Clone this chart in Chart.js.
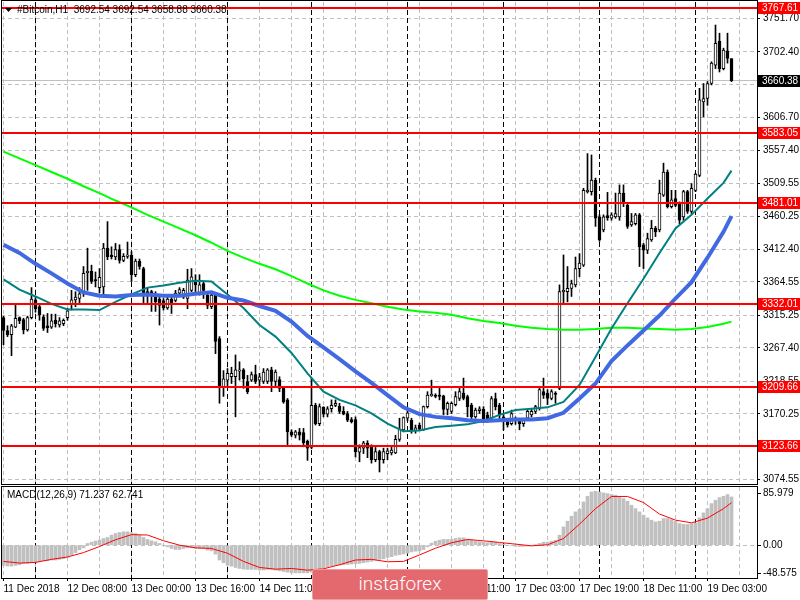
<!DOCTYPE html>
<html>
<head>
<meta charset="utf-8">
<script src="https://cdn.jsdelivr.net/npm/chart.js@4.4.0/dist/chart.umd.min.js"></script>
<style>
    html, body { margin: 0; padding: 0; background: #ffffff; }
    #wrap { position: relative; width: 800px; height: 600px; overflow: hidden; background: #ffffff; }
    #mainChart { position: absolute; left: 0; top: 0; }
    #macdChart { position: absolute; left: 0; top: 486px; }
    #mark {
        position: absolute; left: 312px; top: 569px; width: 176px; height: 31px;
        box-sizing: border-box; background: #e4696e; border: 1px solid #f09a9c; border-radius: 2px;
        color: #ffffff; font: 300 19px Roboto, sans-serif;
        display: flex; align-items: center; justify-content: center; padding-bottom: 2px;
    }
</style>
</head>
<body>
<div id="wrap">
    <canvas id="mainChart" width="800" height="486"></canvas>
    <canvas id="macdChart" width="800" height="114"></canvas>
    <div id="mark">instaforex</div>
</div>
<script>
/**
 * #Bitcoin H1 chart with moving averages, levels and MACD
 */

const symbol = '#Bitcoin,H1';

// x axis labels, one every 16 bars
const xLabels = ['11 Dec 2018', '12 Dec 08:00', '13 Dec 00:00', '13 Dec 16:00', '14 Dec 11:00', '15 Dec 03:00',
    '15 Dec 19:00', '16 Dec 11:00', '17 Dec 03:00', '17 Dec 19:00', '18 Dec 11:00', '19 Dec 03:00'];

// bar index of each midnight
const daySeparators = [8, 32, 56, 77, 101, 125, 149, 173];

const priceTicks = [3074.55, 3122.40, 3170.25, 3218.55, 3267.40, 3315.25, 3364.55, 3412.40,
    3460.25, 3509.55, 3557.40, 3606.70, 3654.85, 3702.40, 3751.70];
const priceRange = [3067.32, 3775.86];

// horizontal support / resistance levels
const levels = [3767.61, 3583.05, 3481.01, 3332.01, 3209.66, 3123.66];

// hourly candles
const opens = [
    3312, 3293, 3287, 3298, 3312, 3309, 3294, 3312, 3338, 3328,
    3313, 3300, 3298, 3308, 3301, 3303, 3312, 3331, 3338, 3340,
    3347, 3378, 3380, 3368, 3356, 3357, 3414, 3404, 3401, 3412,
    3396, 3402, 3404, 3375, 3395, 3384, 3350, 3350, 3345, 3339,
    3337, 3326, 3339, 3337, 3348, 3342, 3340, 3352, 3367, 3348,
    3362, 3345, 3328, 3345, 3281, 3210, 3220, 3225, 3225, 3233,
    3235, 3218, 3220, 3228, 3220, 3218, 3218, 3235, 3218, 3221,
    3208, 3191, 3144, 3139, 3144, 3143, 3130, 3121, 3183, 3156,
    3180, 3170, 3178, 3183, 3182, 3174, 3171, 3162, 3162, 3114,
    3120, 3127, 3123, 3103, 3115, 3103, 3112, 3113, 3113, 3133,
    3147, 3164, 3161, 3146, 3154, 3147, 3181, 3197, 3198, 3198,
    3197, 3177, 3174, 3184, 3193, 3201, 3196, 3183, 3166, 3175,
    3177, 3169, 3164, 3193, 3183, 3166, 3159, 3156, 3164, 3161,
    3156, 3164, 3169, 3174, 3179, 3203, 3201, 3193, 3201, 3208,
    3350, 3350, 3355, 3360, 3384, 3389, 3497, 3497, 3514, 3460,
    3441, 3462, 3458, 3460, 3460, 3495, 3477, 3448, 3450, 3463,
    3419, 3411, 3426, 3443, 3441, 3492, 3526, 3475, 3487, 3480,
    3460, 3497, 3468, 3499, 3521, 3629, 3634, 3656, 3683, 3718,
    3678, 3704, 3692.54
];
const highs = [
    3314, 3300, 3302, 3330, 3313, 3311, 3314, 3356, 3342, 3330,
    3316, 3318, 3317, 3317, 3312, 3310, 3326, 3352, 3350, 3356,
    3387, 3414, 3389, 3379, 3384, 3421, 3453, 3416, 3421, 3419,
    3406, 3423, 3409, 3398, 3398, 3386, 3356, 3352, 3350, 3342,
    3340, 3343, 3345, 3352, 3356, 3355, 3383, 3384, 3375, 3375,
    3365, 3348, 3350, 3348, 3284, 3234, 3237, 3239, 3257, 3247,
    3237, 3227, 3232, 3242, 3230, 3237, 3237, 3239, 3235, 3225,
    3210, 3193, 3147, 3146, 3149, 3149, 3132, 3223, 3186, 3185,
    3181, 3181, 3191, 3191, 3186, 3181, 3174, 3165, 3166, 3125,
    3130, 3131, 3125, 3121, 3117, 3120, 3120, 3122, 3139, 3164,
    3166, 3178, 3164, 3154, 3157, 3182, 3203, 3220, 3200, 3208,
    3198, 3188, 3188, 3203, 3210, 3223, 3198, 3186, 3179, 3181,
    3181, 3173, 3196, 3201, 3186, 3170, 3164, 3176, 3166, 3164,
    3164, 3176, 3178, 3183, 3208, 3223, 3206, 3206, 3203, 3360,
    3404, 3387, 3367, 3401, 3406, 3502, 3553, 3551, 3517, 3463,
    3463, 3496, 3466, 3495, 3507, 3507, 3480, 3465, 3465, 3465,
    3421, 3436, 3455, 3446, 3514, 3539, 3529, 3499, 3499, 3482,
    3499, 3499, 3509, 3524, 3649, 3656, 3659, 3688, 3742, 3730,
    3708, 3730, 3692.54
];
const lows = [
    3272, 3284, 3256, 3297, 3303, 3288, 3292, 3310, 3320, 3308,
    3293, 3290, 3296, 3298, 3298, 3300, 3308, 3323, 3328, 3333,
    3343, 3352, 3362, 3357, 3348, 3345, 3397, 3398, 3397, 3392,
    3394, 3399, 3365, 3372, 3383, 3333, 3333, 3321, 3321, 3301,
    3323, 3324, 3318, 3335, 3345, 3340, 3325, 3350, 3348, 3345,
    3340, 3325, 3325, 3259, 3186, 3196, 3210, 3215, 3166, 3220,
    3208, 3200, 3218, 3215, 3210, 3215, 3215, 3203, 3210, 3203,
    3186, 3125, 3137, 3135, 3132, 3122, 3102, 3119, 3154, 3153,
    3166, 3166, 3173, 3181, 3171, 3169, 3159, 3157, 3107, 3100,
    3112, 3106, 3098, 3100, 3085, 3098, 3103, 3110, 3112, 3130,
    3144, 3160, 3142, 3142, 3146, 3146, 3179, 3196, 3194, 3191,
    3169, 3169, 3171, 3182, 3190, 3191, 3166, 3160, 3164, 3171,
    3159, 3158, 3161, 3176, 3161, 3147, 3151, 3154, 3155, 3147,
    3152, 3161, 3166, 3171, 3176, 3193, 3184, 3191, 3186, 3206,
    3333, 3335, 3343, 3357, 3372, 3387, 3495, 3492, 3446, 3424,
    3438, 3455, 3455, 3458, 3455, 3475, 3443, 3446, 3448, 3387,
    3384, 3406, 3424, 3431, 3438, 3490, 3473, 3473, 3475, 3450,
    3455, 3465, 3465, 3497, 3519, 3607, 3624, 3654, 3678, 3673,
    3676, 3686, 3658.88
];
const closes = [
    3293, 3287, 3300, 3311, 3307, 3294, 3312, 3339, 3325, 3316,
    3296, 3297, 3307, 3303, 3307, 3308, 3322, 3338, 3342, 3347,
    3377, 3380, 3365, 3366, 3371, 3414, 3401, 3401, 3412, 3396,
    3402, 3404, 3375, 3395, 3387, 3345, 3346, 3345, 3335, 3330,
    3326, 3339, 3333, 3348, 3353, 3352, 3367, 3372, 3360, 3360,
    3352, 3330, 3345, 3277, 3210, 3222, 3230, 3230, 3235, 3235,
    3222, 3203, 3228, 3218, 3225, 3232, 3235, 3218, 3232, 3208,
    3188, 3144, 3139, 3144, 3139, 3128, 3120, 3183, 3156, 3181,
    3170, 3178, 3183, 3186, 3174, 3170, 3161, 3159, 3115, 3121,
    3128, 3120, 3103, 3115, 3103, 3115, 3116, 3117, 3133, 3148,
    3165, 3172, 3147, 3150, 3148, 3181, 3198, 3199, 3196, 3196,
    3177, 3186, 3186, 3196, 3203, 3193, 3181, 3166, 3176, 3178,
    3161, 3161, 3193, 3181, 3169, 3159, 3154, 3171, 3161, 3156,
    3161, 3174, 3174, 3181, 3206, 3198, 3193, 3203, 3199, 3350,
    3352, 3355, 3362, 3384, 3392, 3499, 3499, 3514, 3458, 3426,
    3460, 3459, 3463, 3465, 3495, 3480, 3446, 3453, 3463, 3416,
    3411, 3428, 3443, 3438, 3495, 3526, 3475, 3485, 3477, 3455,
    3497, 3468, 3502, 3523, 3632, 3634, 3656, 3686, 3715, 3678,
    3705, 3693, 3660.38
];

// moving averages, read every 4 bars
const maIdx = [0, 4, 8, 12, 16, 20, 24, 28, 32, 36, 40, 44, 48, 52, 56, 60, 64, 68, 72, 76, 80, 84, 88, 92,
    96, 100, 104, 108, 112, 116, 120, 124, 128, 132, 136, 140, 144, 148, 152, 156, 160, 164, 168, 172, 176, 180, 182];
const maBlue = [3419, 3407, 3391, 3377, 3362, 3349, 3344, 3343, 3345, 3346, 3344, 3344, 3347, 3349, 3341, 3337,
    3329, 3322, 3306, 3285, 3268, 3251, 3233, 3216, 3198, 3180, 3170, 3166, 3164, 3161, 3160, 3161,
    3162, 3162, 3164, 3172, 3193, 3215, 3248, 3271, 3293, 3315, 3340, 3364, 3400, 3438, 3461];
const maTeal = [3368, 3353, 3343, 3332, 3324, 3324, 3323, 3335, 3346, 3356, 3359, 3363, 3366, 3365, 3346, 3326,
    3301, 3284, 3260, 3230, 3203, 3191, 3183, 3171, 3156, 3145, 3146, 3151, 3153, 3155, 3160, 3169,
    3176, 3178, 3180, 3188, 3213, 3254, 3296, 3333, 3369, 3407, 3443, 3463, 3487, 3510, 3528];
const maGreen = [3556, 3546, 3536, 3526, 3516, 3505, 3495, 3484, 3474, 3463, 3453, 3443, 3433, 3422, 3410, 3400,
    3391, 3383, 3373, 3362, 3352, 3344, 3338, 3333, 3328, 3324, 3321, 3319, 3316, 3311, 3307, 3304,
    3300, 3297, 3295, 3294, 3294, 3295, 3297, 3297, 3296, 3295, 3294, 3295, 3298, 3303, 3306];

// MACD(12,26,9): main histogram per bar, signal every 4 bars
const macdMain = [
    -30, -31, -31, -30, -29, -27, -27, -26, -25, -24,
    -23, -23, -22, -22, -21, -20, -18, -15, -11, -7,
    -4, 2.5, 4.5, 6, 7.4, 9.8, 11.3, 14.7, 17.2, 18.7,
    19.7, 19.7, 18.2, 17.2, 14.7, 11.3, 8.4, 6.4, 4.9, 2.5,
    0, -2.5, -4.9, -6.4, -6.4, -4.9, -3.9, -3.9, -4.9, -4.9,
    -4.9, -7.4, -8.4, -13.3, -22, -26, -29.5, -31, -33, -34.4,
    -35.4, -35.9, -35.9, -35.9, -36.9, -36.9, -36, -36, -37, -38,
    -39, -40, -41, -41, -41, -41, -41, -40, -38, -36,
    -34, -32, -31, -30, -29.5, -29, -28.5, -28, -27.5, -27,
    -26, -25, -24, -22, -21, -20, -18, -17, -15, -14,
    -13, -12, -10, -9, -8.5, -6.5, -2.5, 3, 5.9, 7.4,
    8.4, 8.4, 8.4, 9.8, 10.8, 10.8, 8.8, 7.4, 5.9, 4.9,
    4.4, 3.4, 4.9, 4.4, 2.5, 1.5, 0, -1, -1.5, -2,
    -2, -1.5, -1, 0.3, 2.5, 4.4, 4.4, 5.9, 6.9, 14.7,
    27, 35.4, 42.8, 49.2, 53.1, 63.9, 72.3, 78.7, 79.7, 78.7,
    77.2, 76.2, 74.8, 73.8, 71.3, 68.8, 64.9, 59, 54, 49.2,
    44.3, 40.3, 36.9, 34.4, 35.4, 39.3, 39.3, 37.8, 35.4, 31.9,
    30.9, 30.5, 31.9, 32.9, 40.3, 47.7, 54, 61.5, 66.4, 70.3,
    72.3, 74.8, 71.237
];
const macdSignal = [-24, -26.5, -25.5, -21, -17.5, -11, -2, 8, 15.5, 15,
    6.5, 0, -4, -4.9, -12, -24, -33, -35.5, -34.5, -37,
    -35, -29, -22, -21, -24.6, -24, -14.5, -4.5, 3.5, 8.4,
    6.4, 4, 1.5, -1, 0.5, 9.8, 31, 54, 72, 72,
    63, 46, 37, 33, 40, 54, 62.741];
const macdRange = [-48.575, 85.979];

const FONT = "'Liberation Sans', Arial, sans-serif";
const X_MIN = -0.625;
const X_MAX = 188.375;
const last = closes.length - 1;

function gridTicks(scale) {
    const ticks = [];
    for (let v = 0; v <= 184; v += 8) ticks.push({ value: v });
    scale.ticks = ticks;
}

// keep the plot area edge to edge, no room reserved for half labels
function noPadding(scale) {
    scale.paddingTop = 0;
    scale.paddingBottom = 0;
    scale.paddingLeft = 0;
    scale.paddingRight = 0;
}

function drawSeparators(chart) {
    const { ctx, chartArea: a, scales: { x } } = chart;
    ctx.save();
    ctx.strokeStyle = '#000000';
    ctx.lineWidth = 1;
    ctx.setLineDash([5, 3]);
    daySeparators.forEach(i => {
        const px = Math.floor(x.getPixelForValue(i)) + 0.5;
        ctx.beginPath();
        ctx.moveTo(px, a.top);
        ctx.lineTo(px, a.bottom);
        ctx.stroke();
    });
    ctx.restore();
}

function drawFrame(chart, top) {
    const { ctx, chartArea: a } = chart;
    ctx.save();
    ctx.strokeStyle = '#000000';
    ctx.lineWidth = 1;
    ctx.strokeRect(1.5, top + 0.5, Math.round(a.right) - 1, Math.round(a.bottom) - top);
    ctx.restore();
}

function axisBox(ctx, yPix, text, bg) {
    const y = Math.round(yPix);
    ctx.fillStyle = bg;
    ctx.fillRect(758, y - 6, 42, 12);
    ctx.fillStyle = '#ffffff';
    ctx.textBaseline = 'middle';
    ctx.textAlign = 'left';
    ctx.fillText(text, 762, y + 0.5);
}

const mainOverlay = {
    id: 'mainOverlay',
    beforeDatasetsDraw(chart) {
        drawSeparators(chart);
        const { ctx, chartArea: a, scales: { y } } = chart;
        const py = Math.floor(y.getPixelForValue(closes[last])) + 0.5;
        ctx.save();
        ctx.strokeStyle = '#c0c0c0';
        ctx.lineWidth = 1;
        ctx.beginPath();
        ctx.moveTo(a.left, py);
        ctx.lineTo(a.right, py);
        ctx.stroke();
        ctx.restore();
    },
    afterDatasetsDraw(chart) {
        const { ctx, chartArea: a, scales: { y } } = chart;
        ctx.save();
        ctx.strokeStyle = '#ff0000';
        ctx.lineWidth = 2;
        levels.forEach(v => {
            const py = Math.round(y.getPixelForValue(v));
            ctx.beginPath();
            ctx.moveTo(a.left, py);
            ctx.lineTo(a.right, py);
            ctx.stroke();
        });
        ctx.restore();
    },
    afterDraw(chart) {
        const { ctx, scales: { y } } = chart;
        drawFrame(chart, 0);
        ctx.save();
        ctx.font = '10px ' + FONT;
        levels.forEach(v => axisBox(ctx, y.getPixelForValue(v), v.toFixed(2), '#ff0000'));
        axisBox(ctx, y.getPixelForValue(closes[last]), closes[last].toFixed(2), '#000000');

        // title
        ctx.fillStyle = '#000000';
        ctx.beginPath();
        ctx.moveTo(5, 8);
        ctx.lineTo(12, 8);
        ctx.lineTo(8.5, 12);
        ctx.closePath();
        ctx.fill();
        ctx.textBaseline = 'middle';
        ctx.textAlign = 'left';
        const ohlc = [opens[last], highs[last], lows[last], closes[last]].map(v => v.toFixed(2)).join(' ');
        ctx.fillText(symbol + '  ' + ohlc, 17, 10.5);
        ctx.restore();
    }
};

const macdOverlay = {
    id: 'macdOverlay',
    beforeDatasetsDraw(chart) {
        drawSeparators(chart);
    },
    afterDraw(chart) {
        const { ctx, chartArea: a, scales: { y } } = chart;
        drawFrame(chart, 0);
        ctx.save();
        ctx.font = '10px ' + FONT;
        ctx.fillStyle = '#000000';
        ctx.strokeStyle = '#000000';
        ctx.textBaseline = 'middle';
        ctx.textAlign = 'left';
        const marks = [
            [a.top + 6, macdRange[1].toFixed(3)],
            [y.getPixelForValue(0), '0.00'],
            [a.bottom - 5.5, macdRange[0].toFixed(3)]
        ];
        marks.forEach(([py, text]) => {
            ctx.beginPath();
            ctx.moveTo(758, Math.round(py) + 0.5);
            ctx.lineTo(761, Math.round(py) + 0.5);
            ctx.stroke();
            ctx.fillText(text, 763, py + 0.5);
        });
        const title = 'MACD(12,26,9) ' + macdMain[last].toFixed(3) + ' ' + macdSignal[macdSignal.length - 1].toFixed(3);
        ctx.fillText(title, 7, 9.5);
        ctx.restore();
    }
};

const xScaleBase = {
    type: 'linear',
    min: X_MIN,
    max: X_MAX,
    offset: false,
    afterBuildTicks: gridTicks,
    grid: { color: '#c0c0c0', offset: false },
    border: { display: false, dash: [4, 3] }
};

// main price panel
new Chart(document.getElementById('mainChart'), {
    type: 'bar',
    data: {
        datasets: [
            {
                type: 'line',
                data: maIdx.map((x, k) => ({ x: x, y: maBlue[k] })),
                borderColor: '#4169e1',
                borderWidth: 4,
                pointRadius: 0,
                order: 1
            },
            {
                type: 'line',
                data: maIdx.map((x, k) => ({ x: x, y: maTeal[k] })),
                borderColor: '#008080',
                borderWidth: 2,
                pointRadius: 0,
                order: 2
            },
            {
                type: 'line',
                data: maIdx.map((x, k) => ({ x: x, y: maGreen[k] })),
                borderColor: '#00ff00',
                borderWidth: 2,
                pointRadius: 0,
                order: 3
            },
            {
                label: 'body',
                data: opens.map((o, i) => ({ x: i, y: [o, closes[i]] })),
                backgroundColor: c => closes[c.dataIndex] >= opens[c.dataIndex] ? '#ffffff' : '#000000',
                borderColor: '#000000',
                borderWidth: 1,
                borderSkipped: false,
                barThickness: 3,
                minBarLength: 1,
                grouped: false,
                order: 4
            },
            {
                label: 'wick',
                data: lows.map((l, i) => ({ x: i, y: [l, highs[i]] })),
                backgroundColor: '#000000',
                borderWidth: 0,
                barThickness: 1,
                grouped: false,
                order: 5
            }
        ]
    },
    options: {
        responsive: false,
        animation: false,
        devicePixelRatio: 1,
        events: [],
        layout: { padding: { left: 1, right: 0, top: 2, bottom: 2 } },
        plugins: {
            legend: { display: false },
            tooltip: { enabled: false }
        },
        scales: {
            x: Object.assign({}, xScaleBase, {
                afterFit: s => { s.height = 0; noPadding(s); },
                ticks: { display: false },
                grid: { color: '#c0c0c0', offset: false, drawTicks: false }
            }),
            y: {
                position: 'right',
                min: priceRange[0],
                max: priceRange[1],
                afterBuildTicks: s => { s.ticks = priceTicks.map(v => ({ value: v })); },
                afterFit: s => { s.width = 43; noPadding(s); },
                ticks: {
                    autoSkip: false,
                    padding: 3,
                    color: '#000000',
                    font: { family: FONT, size: 10 },
                    callback: v => Number(v).toFixed(2)
                },
                grid: { color: '#c0c0c0', tickColor: '#000000', tickLength: 3 },
                border: { display: false, dash: [4, 3] }
            }
        }
    },
    plugins: [mainOverlay]
});

// MACD panel
new Chart(document.getElementById('macdChart'), {
    type: 'bar',
    data: {
        datasets: [
            {
                type: 'line',
                data: maIdx.map((x, k) => ({ x: x, y: macdSignal[k] })),
                borderColor: '#ff0000',
                borderWidth: 1,
                pointRadius: 0,
                order: 1
            },
            {
                data: macdMain.map((v, i) => ({ x: i, y: v })),
                backgroundColor: '#c0c0c0',
                borderWidth: 0,
                barThickness: 3,
                grouped: false,
                order: 2
            }
        ]
    },
    options: {
        responsive: false,
        animation: false,
        devicePixelRatio: 1,
        events: [],
        layout: { padding: { left: 1, right: 0, top: 1, bottom: 0 } },
        plugins: {
            legend: { display: false },
            tooltip: { enabled: false }
        },
        scales: {
            x: Object.assign({}, xScaleBase, {
                afterFit: s => { s.height = 22; noPadding(s); },
                ticks: {
                    autoSkip: false,
                    maxRotation: 0,
                    align: 'start',
                    padding: 2,
                    color: '#000000',
                    font: { family: FONT, size: 10 },
                    callback: v => (v % 16 === 0 ? xLabels[v / 16] : '')
                },
                grid: {
                    color: '#c0c0c0',
                    offset: false,
                    tickLength: 3,
                    tickColor: c => (c.tick && c.tick.value % 16 === 0 ? '#000000' : 'rgba(0,0,0,0)')
                }
            }),
            y: {
                position: 'right',
                min: macdRange[0],
                max: macdRange[1],
                afterBuildTicks: s => { s.ticks = [{ value: 0 }]; },
                afterFit: s => { s.width = 43; noPadding(s); },
                ticks: { display: false },
                grid: { color: '#c0c0c0', drawTicks: false },
                border: { display: false, dash: [4, 3] }
            }
        }
    },
    plugins: [macdOverlay]
});
</script>
</body>
</html>
